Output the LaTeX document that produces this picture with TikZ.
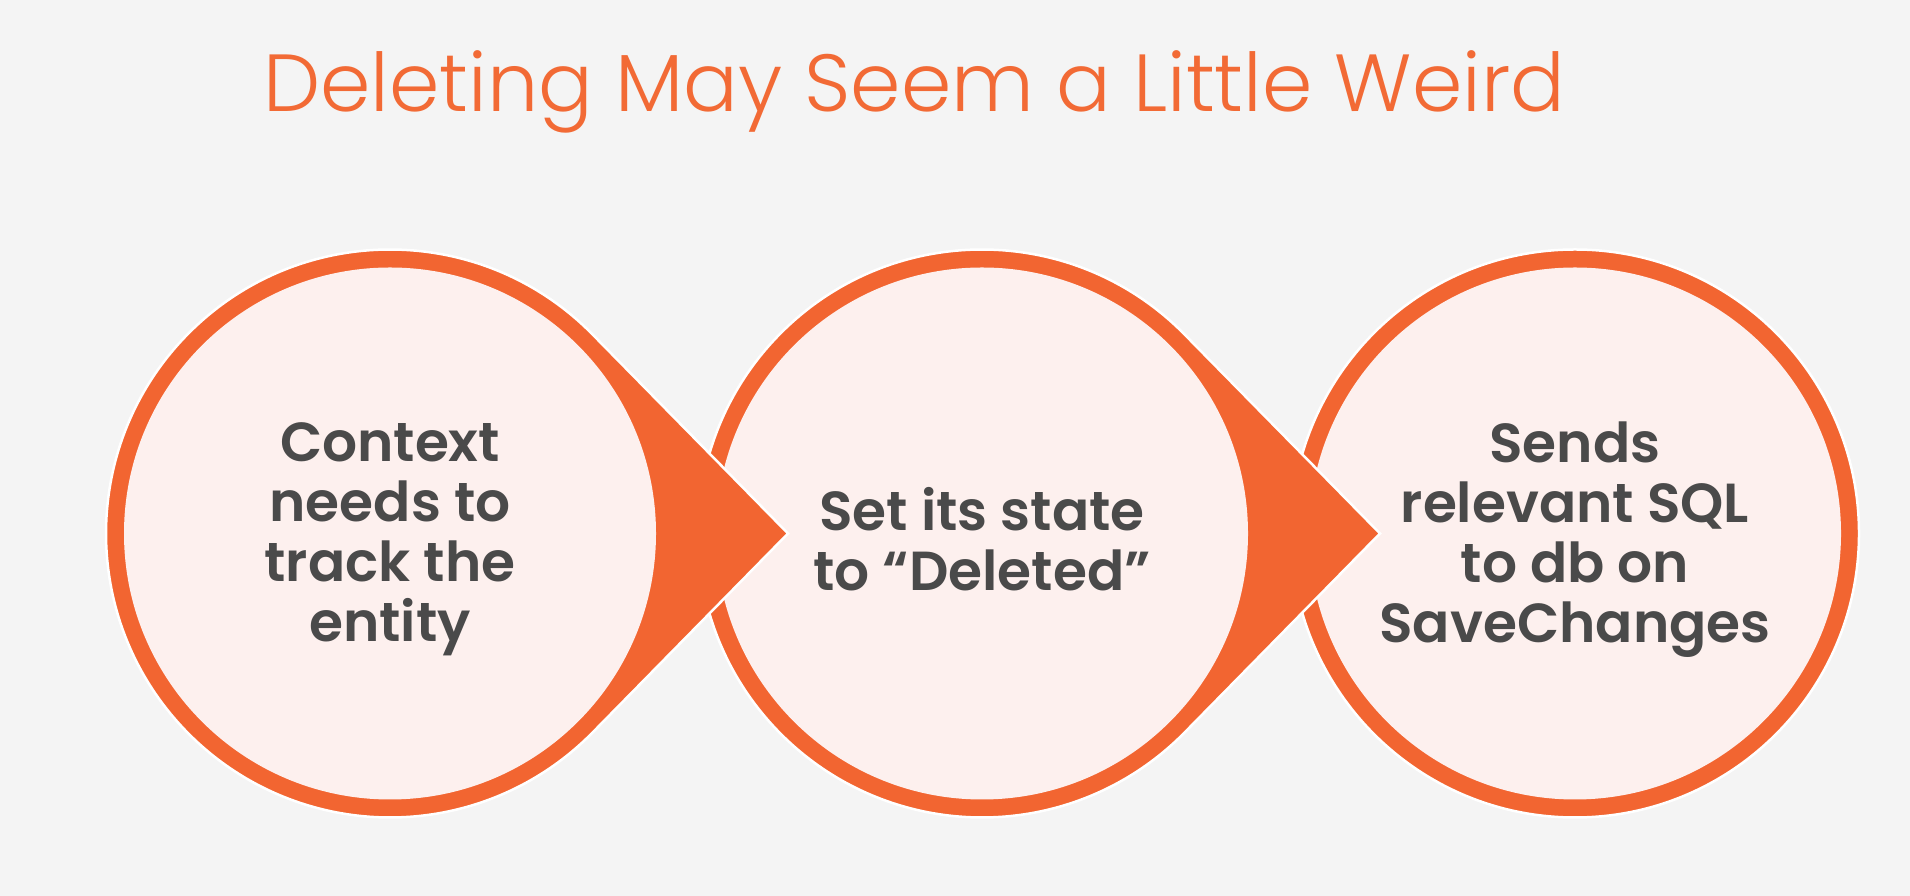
\documentclass[tikz,border=0pt]{standalone}
\usepackage{fontspec}
\setmainfont{Poppins}
\newfontfamily\titlefont{Poppins Light}
\newfontfamily\bodyfont{Poppins SemiBold}
\usetikzlibrary{calc}
\definecolor{bg}{HTML}{F4F4F4}
\definecolor{ringcol}{HTML}{F26531}
\definecolor{disccol}{HTML}{FDF0EE}
\definecolor{ink}{HTML}{4A4A4A}
\definecolor{heading}{HTML}{F26A35}
\begin{document}
\begin{tikzpicture}[x=1pt,y=1pt,
  ringshape/.style={fill=ringcol, draw=white, line width=2.5pt, line join=miter},
  innerdisc/.style={fill=disccol},
  steptext/.style={font=\bodyfont\fontsize{55}{60}\selectfont, text=ink, align=center, inner sep=0pt}]
\fill[bg] (0,0) rectangle (1910,896);
\useasboundingbox (0,0) rectangle (1910,896);
\def\R{284}\def\r{266}\def\tip{398}\def\ang{44.47}
\coordinate (c1) at (390,362.5);
\coordinate (c2) at (982,362.5);
\coordinate (c3) at (1575,362.5);
% last step: plain ring
\path[ringshape] (c3) circle[radius=\R];
\path[innerdisc] (c3) circle[radius=\r];
% middle step: ring with pointer
\path[ringshape] ($(c2)+(\tip,0)$) -- ($(c2)+(\ang:\R)$)
  arc[start angle=\ang, end angle=360-\ang, radius=\R] -- cycle;
\path[innerdisc] (c2) circle[radius=\r];
% first step: ring with pointer
\path[ringshape] ($(c1)+(\tip,0)$) -- ($(c1)+(\ang:\R)$)
  arc[start angle=\ang, end angle=360-\ang, radius=\R] -- cycle;
\path[innerdisc] (c1) circle[radius=\r];
% texts
\node[steptext] (t1) at ($(c1)+(0,-6)$) {Context\\needs to\\track the\\entity};
\node[steptext] (t2) at ($(c2)+(0,-6)$) {Set its state\\to “Deleted”};
\node[steptext] (t3) at ($(c3)+(0,-6)$) {Sends\\relevant SQL\\to db on\\SaveChanges};
\node[font=\titlefont\fontsize{81}{90}\selectfont, text=heading, anchor=base west, inner sep=0pt]
  (title) at (263,784) {Deleting May Seem a Little Weird};
\end{tikzpicture}
\end{document}
